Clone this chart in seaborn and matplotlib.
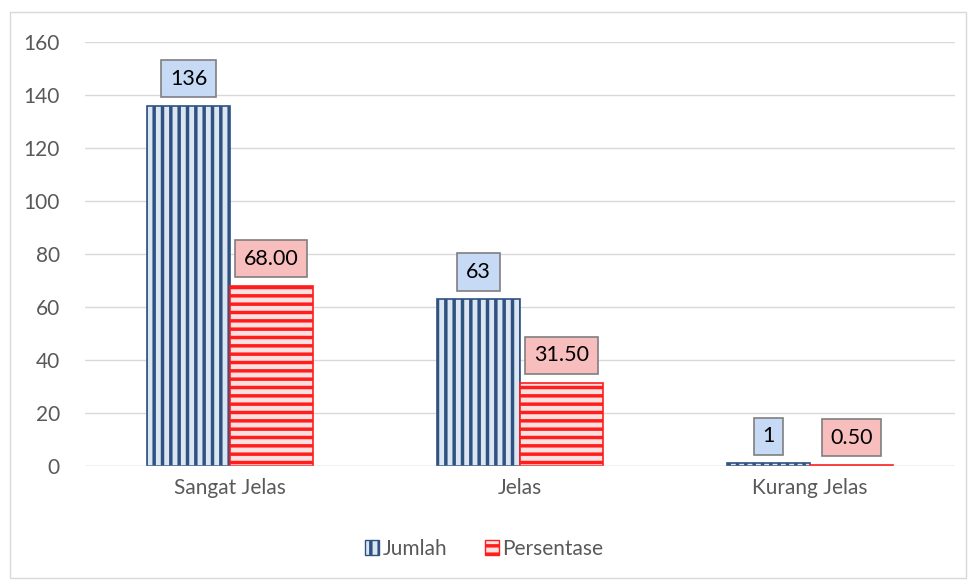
import pandas as pd
import matplotlib.pyplot as plt
from matplotlib.patches import Rectangle, Patch
import seaborn as sns

categories = ["Sangat Jelas", "Jelas", "Kurang Jelas"]
jumlah = [136, 63, 1]
persentase = [68.00, 31.50, 0.50]
jumlah_labels = ["136", "63", "1"]
persentase_labels = ["68.00", "31.50", "0.50"]
y_ticks = [0, 20, 40, 60, 80, 100, 120, 140, 160]

df = pd.DataFrame({
    "kategori": categories * 2,
    "nilai": jumlah + persentase,
    "seri": ["Jumlah"] * 3 + ["Persentase"] * 3,
})

sns.set_style("white")
plt.rcParams["font.family"] = ["Lato", "DejaVu Sans"]
plt.rcParams["hatch.linewidth"] = 2.5

fig = plt.figure(figsize=(9.68, 5.8), dpi=100)
ax = fig.add_axes([85 / 968, 114 / 580, 870 / 968, 424 / 580])

blue = "#2F5281"
red = "#FF1E1E"
sns.barplot(data=df, x="kategori", y="nilai", hue="seri", ax=ax,
            palette={"Jumlah": "#DCE6F2", "Persentase": "#FBE0E0"},
            width=0.572, gap=0, legend=False, saturation=1)

styles = [(blue, "||"), (red, "--")]
series_labels = [jumlah_labels, persentase_labels]
box_fill = ["#C6D9F5", "#F8BDBD"]
for container, (col, hatch), labels, fill in zip(ax.containers, styles, series_labels, box_fill):
    for bar, lab in zip(container, labels):
        bar.set_edgecolor(col)
        bar.set_hatch(hatch)
        bar.set_linewidth(1.2)
        ax.annotate(lab, (bar.get_x() + bar.get_width() / 2, bar.get_height()),
                    xytext=(0, 19.5), textcoords="offset points",
                    ha="center", va="center", fontsize=15.5, color="black",
                    bbox=dict(boxstyle="square,pad=0.4", fc=fill, ec="#7F7F7F", lw=1.2))

ax.set_ylim(0, 160)
ax.set_xlim(-0.5, 2.5)
ax.set_yticks(y_ticks)
ax.yaxis.grid(True, color="#D9D9D9", linewidth=1)
ax.set_axisbelow(True)
for s in ax.spines.values():
    s.set_visible(False)
ax.set_xlabel("")
ax.set_ylabel("")
ax.tick_params(axis="both", length=0, labelsize=15, colors="#595959", pad=9)
ax.tick_params(axis="y", pad=18)
ax.axhline(0, color="#D9D9D9", lw=1)

handles = [Patch(facecolor="#DCE6F2", edgecolor=blue, hatch="||", label="Jumlah"),
           Patch(facecolor="#FBE0E0", edgecolor=red, hatch="--", label="Persentase")]
fig.legend(handles=handles, loc="center", bbox_to_anchor=(0.5, 1 - 549 / 580), ncol=2,
           frameon=False, fontsize=15, handlelength=0.7, handleheight=0.7,
           handletextpad=0.15, columnspacing=1.8, labelcolor="#595959")

fig.add_artist(Rectangle((10 / 968, 2 / 580), 956 / 968, 566 / 580,
                         transform=fig.transFigure, fill=False,
                         edgecolor="#D9D9D9", lw=1))

fig.savefig("out.png", dpi=100)
